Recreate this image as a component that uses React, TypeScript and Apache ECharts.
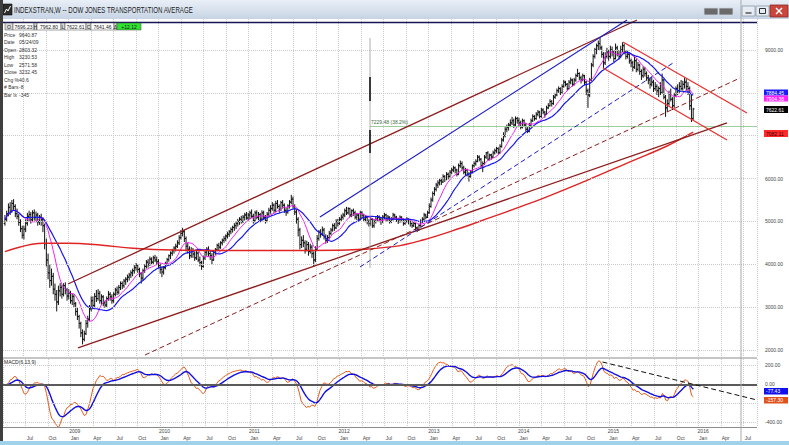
import React, { useEffect, useRef } from "react";
import * as echarts from "echarts";

const FONT = "'Liberation Sans', Arial, sans-serif";

// weekly bars: decimal year of the first bar and one week in years
const firstWeek = 2008.294;
const weekStep = 7 / 365.25;

// [open, high, low, close]
const bars2008 = [
  [4950, 5150, 4900, 5050], [5050, 5250, 5000, 5180], [5180, 5420, 5120, 5330], [5330, 5450, 5150, 5240],
  [5240, 5500, 5200, 5420], [5420, 5520, 5250, 5350], [5350, 5400, 5100, 5180], [5180, 5300, 5050, 5120],
  [5120, 5180, 4900, 4980], [4980, 5050, 4750, 4830], [4830, 4900, 4600, 4680], [4680, 4900, 4580, 4820],
  [4820, 5050, 4750, 4960], [4960, 5200, 4900, 5120], [5120, 5250, 5000, 5160], [5160, 5220, 4950, 5040],
  [5040, 5260, 5000, 5200], [5200, 5280, 5020, 5090], [5090, 5230, 4980, 5150], [5150, 5200, 4900, 4990],
  [4990, 5150, 4920, 5100], [5100, 5180, 4900, 5040], [5040, 5100, 4750, 4900], [4900, 4950, 4350, 4480],
  [4480, 4600, 3950, 4100], [4100, 4250, 3650, 3800], [3800, 4000, 3450, 3620], [3620, 3900, 3500, 3720],
  [3720, 3800, 3300, 3420], [3420, 3550, 3150, 3300], [3300, 3400, 2900, 3120], [3120, 3500, 3050, 3380],
  [3380, 3560, 3250, 3460], [3460, 3520, 3200, 3300], [3300, 3560, 3250, 3500], [3500, 3580, 3300, 3400],
  [3400, 3450, 3150, 3260],
];
const bars2009 = [
  [3260, 3420, 3180, 3330], [3330, 3380, 3080, 3150], [3150, 3320, 3050, 3250], [3250, 3300, 3000, 3080],
  [3080, 3120, 2800, 2900], [2900, 2980, 2700, 2780], [2780, 2820, 2500, 2620], [2620, 2660, 2300, 2400],
  [2400, 2480, 2130, 2250], [2250, 2450, 2200, 2380], [2380, 2700, 2350, 2620], [2620, 2800, 2520, 2720],
  [2720, 3050, 2680, 2960], [2960, 3250, 2900, 3150], [3150, 3250, 2950, 3040], [3040, 3330, 3000, 3250],
  [3250, 3400, 3120, 3200], [3200, 3420, 3150, 3320], [3320, 3380, 3080, 3150], [3150, 3300, 3050, 3240],
  [3240, 3280, 3020, 3100], [3100, 3150, 2980, 3050], [3050, 3250, 3000, 3200], [3200, 3380, 3150, 3300],
  [3300, 3350, 3150, 3240], [3240, 3300, 3080, 3150], [3150, 3350, 3100, 3300], [3300, 3450, 3250, 3400],
  [3400, 3480, 3280, 3350], [3350, 3520, 3300, 3460], [3460, 3600, 3400, 3550], [3550, 3600, 3420, 3500],
  [3500, 3660, 3450, 3610], [3610, 3700, 3520, 3650], [3650, 3760, 3580, 3700], [3700, 3800, 3620, 3750],
  [3750, 3860, 3680, 3800], [3800, 3900, 3720, 3850], [3850, 3980, 3780, 3920], [3920, 4030, 3850, 3980],
  [3980, 4000, 3800, 3880], [3880, 3920, 3700, 3780], [3780, 3820, 3550, 3680], [3680, 3900, 3620, 3850],
  [3850, 4000, 3800, 3950], [3950, 4100, 3900, 4050], [4050, 4120, 3920, 4000], [4000, 4180, 3960, 4120],
  [4120, 4160, 3980, 4050], [4050, 4200, 4000, 4150], [4150, 4220, 4050, 4100], [4100, 4180, 3980, 4060],
];
const bars2010 = [
  [4060, 4120, 3900, 3980], [3980, 4020, 3780, 3880], [3880, 3950, 3700, 3820], [3820, 3960, 3760, 3920],
  [3920, 4060, 3880, 4020], [4020, 4150, 3980, 4110], [4110, 4230, 4060, 4200], [4200, 4300, 4120, 4260],
  [4260, 4360, 4200, 4320], [4320, 4420, 4250, 4380], [4380, 4480, 4300, 4420], [4420, 4560, 4380, 4500],
  [4500, 4680, 4450, 4620], [4620, 4800, 4580, 4720], [4720, 4850, 4650, 4760], [4760, 4800, 4520, 4600],
  [4600, 4650, 4300, 4420], [4420, 4500, 4250, 4350], [4350, 4420, 4120, 4200], [4200, 4400, 4150, 4320],
  [4320, 4380, 4150, 4240], [4240, 4300, 4080, 4150], [4150, 4320, 4100, 4260], [4260, 4300, 4050, 4100],
  [4100, 4180, 3950, 4040], [4040, 4080, 3870, 3950], [3950, 4200, 3920, 4150], [4150, 4330, 4100, 4280],
  [4280, 4400, 4200, 4350], [4350, 4420, 4180, 4250], [4250, 4320, 4100, 4200], [4200, 4260, 4000, 4100],
  [4100, 4320, 4080, 4280], [4280, 4380, 4220, 4340], [4340, 4480, 4300, 4440], [4440, 4500, 4330, 4400],
  [4400, 4540, 4360, 4500], [4500, 4600, 4440, 4560], [4560, 4660, 4500, 4600], [4600, 4700, 4540, 4660],
  [4660, 4760, 4600, 4700], [4700, 4800, 4640, 4760], [4760, 4860, 4700, 4810], [4810, 4900, 4740, 4860],
  [4860, 4960, 4780, 4900], [4900, 5000, 4820, 4950], [4950, 5060, 4880, 5000], [5000, 5100, 4920, 5050],
  [5050, 5130, 4950, 5000], [5000, 5150, 4960, 5100], [5100, 5200, 5020, 5150], [5150, 5220, 5040, 5080],
  [5080, 5200, 5020, 5150],
];
const bars2011 = [
  [5150, 5250, 5050, 5200], [5200, 5280, 5080, 5120], [5120, 5180, 4950, 5020], [5020, 5250, 4980, 5200],
  [5200, 5260, 5050, 5100], [5100, 5220, 5030, 5160], [5160, 5200, 4980, 5050], [5050, 5260, 5000, 5200],
  [5200, 5250, 5030, 5100], [5100, 5150, 4950, 5020], [5020, 5220, 4980, 5170], [5170, 5320, 5120, 5260],
  [5260, 5380, 5180, 5300], [5300, 5450, 5250, 5380], [5380, 5420, 5200, 5260], [5260, 5480, 5220, 5420],
  [5420, 5500, 5300, 5350], [5350, 5400, 5200, 5280], [5280, 5480, 5240, 5440], [5440, 5500, 5300, 5380],
  [5380, 5420, 5200, 5260], [5260, 5320, 5130, 5220], [5220, 5400, 5180, 5360], [5360, 5500, 5300, 5450],
  [5450, 5620, 5400, 5520], [5520, 5580, 5300, 5350], [5350, 5400, 5150, 5220], [5220, 5280, 4950, 5050],
  [5050, 5100, 4650, 4800], [4800, 4850, 4350, 4460], [4460, 4650, 4380, 4560], [4560, 4680, 4400, 4500],
  [4500, 4560, 4250, 4350], [4350, 4550, 4300, 4460], [4460, 4520, 4200, 4300], [4300, 4480, 4250, 4400],
  [4400, 4450, 4150, 4250], [4250, 4300, 3940, 4100], [4100, 4420, 4050, 4350], [4350, 4680, 4320, 4600],
  [4600, 4800, 4550, 4750], [4750, 4820, 4620, 4700], [4700, 4880, 4660, 4800], [4800, 4850, 4580, 4650],
  [4650, 4700, 4480, 4560], [4560, 4680, 4500, 4620], [4620, 4780, 4580, 4720], [4720, 4850, 4680, 4800],
  [4800, 4950, 4760, 4900], [4900, 4960, 4780, 4850], [4850, 5050, 4820, 5000], [5000, 5060, 4880, 4950],
];
const bars2012 = [
  [4950, 5100, 4920, 5050], [5050, 5160, 5000, 5100], [5100, 5200, 5040, 5150], [5150, 5300, 5100, 5250],
  [5250, 5340, 5150, 5200], [5200, 5330, 5160, 5300], [5300, 5320, 5100, 5150], [5150, 5280, 5100, 5250],
  [5250, 5300, 5130, 5200], [5200, 5250, 5050, 5100], [5100, 5200, 5030, 5150], [5150, 5180, 5000, 5050],
  [5050, 5250, 5020, 5200], [5200, 5240, 5080, 5150], [5150, 5180, 5000, 5050], [5050, 5150, 4980, 5100],
  [5100, 5130, 4930, 5000], [5000, 5050, 4880, 4950], [4950, 5100, 4900, 5050], [5050, 5080, 4850, 4900],
  [4900, 5050, 4850, 5000], [5000, 5100, 4950, 5050], [5050, 5150, 5000, 5100], [5100, 5140, 4980, 5050],
  [5050, 5080, 4920, 5000], [5000, 5150, 4960, 5100], [5100, 5200, 5050, 5150], [5150, 5180, 5000, 5050],
  [5050, 5150, 5000, 5100], [5100, 5120, 4950, 5000], [5000, 5100, 4960, 5050], [5050, 5200, 5020, 5150],
  [5150, 5180, 5040, 5100], [5100, 5130, 4990, 5050], [5050, 5080, 4940, 5000], [5000, 5140, 4970, 5100],
  [5100, 5120, 4980, 5050], [5050, 5070, 4900, 4950], [4950, 5060, 4920, 5000], [5000, 5100, 4970, 5050],
  [5050, 5070, 4930, 5000], [5000, 5020, 4880, 4950], [4950, 4980, 4850, 4900], [4900, 5000, 4870, 4950],
  [4950, 4970, 4800, 4850], [4850, 4880, 4750, 4800], [4800, 4950, 4780, 4900], [4900, 5050, 4880, 5000],
  [5000, 5100, 4960, 5050], [5050, 5200, 5020, 5150], [5150, 5180, 5050, 5100], [5100, 5250, 5080, 5200],
];
const bars2013 = [
  [5200, 5420, 5180, 5350], [5350, 5560, 5320, 5500], [5500, 5700, 5460, 5650], [5650, 5800, 5600, 5750],
  [5750, 5900, 5700, 5850], [5850, 5960, 5780, 5900], [5900, 6000, 5840, 5950], [5950, 6020, 5850, 5920],
  [5920, 6100, 5900, 6050], [6050, 6080, 5920, 6000], [6000, 6150, 5960, 6100], [6100, 6140, 5980, 6050],
  [6050, 6200, 6020, 6150], [6150, 6250, 6100, 6200], [6200, 6300, 6150, 6250], [6250, 6280, 6120, 6200],
  [6200, 6230, 6050, 6100], [6100, 6350, 6080, 6300], [6300, 6420, 6250, 6350], [6350, 6400, 6200, 6250],
  [6250, 6300, 6100, 6150], [6150, 6250, 6080, 6200], [6200, 6230, 6050, 6100], [6100, 6150, 5930, 6050],
  [6050, 6200, 6020, 6150], [6150, 6330, 6120, 6300], [6300, 6400, 6260, 6350], [6350, 6450, 6300, 6400],
  [6400, 6550, 6380, 6500], [6500, 6540, 6400, 6450], [6450, 6480, 6250, 6300], [6300, 6400, 6150, 6350],
  [6350, 6550, 6320, 6500], [6500, 6620, 6460, 6600], [6600, 6640, 6420, 6450], [6450, 6580, 6420, 6550],
  [6550, 6580, 6440, 6500], [6500, 6650, 6480, 6600], [6600, 6700, 6560, 6650], [6650, 6740, 6600, 6700],
  [6700, 6730, 6560, 6600], [6600, 6800, 6580, 6750], [6750, 6950, 6720, 6900], [6900, 7080, 6860, 7000],
  [7000, 7200, 6960, 7150], [7150, 7260, 7080, 7200], [7200, 7300, 7120, 7250], [7250, 7380, 7200, 7300],
  [7300, 7440, 7250, 7350], [7350, 7400, 7180, 7250], [7250, 7450, 7220, 7400], [7400, 7440, 7280, 7350],
];
const bars2014 = [
  [7350, 7420, 7220, 7300], [7300, 7350, 7150, 7200], [7200, 7400, 7170, 7350], [7350, 7380, 7200, 7250],
  [7250, 7300, 7100, 7150], [7150, 7200, 7060, 7100], [7100, 7300, 7080, 7250], [7250, 7400, 7220, 7350],
  [7350, 7500, 7320, 7450], [7450, 7480, 7350, 7400], [7400, 7550, 7370, 7500], [7500, 7600, 7450, 7550],
  [7550, 7580, 7400, 7450], [7450, 7650, 7420, 7600], [7600, 7640, 7500, 7550], [7550, 7580, 7420, 7500],
  [7500, 7700, 7480, 7650], [7650, 7760, 7620, 7700], [7700, 7850, 7680, 7800], [7800, 7830, 7680, 7750],
  [7750, 7950, 7720, 7900], [7900, 8000, 7860, 7950], [7950, 8100, 7920, 8050], [8050, 8150, 8000, 8100],
  [8100, 8130, 7950, 8000], [8000, 8200, 7980, 8150], [8150, 8300, 8120, 8250], [8250, 8280, 8150, 8200],
  [8200, 8230, 8050, 8100], [8100, 8300, 8080, 8250], [8250, 8360, 8200, 8300], [8300, 8330, 8150, 8200],
  [8200, 8350, 8170, 8300], [8300, 8450, 8260, 8400], [8400, 8560, 8370, 8450], [8450, 8480, 8300, 8350],
  [8350, 8400, 8220, 8300], [8300, 8450, 8270, 8400], [8400, 8420, 8180, 8250], [8250, 8280, 7950, 8050],
  [8050, 8100, 7650, 7950], [7950, 8350, 7900, 8300], [8300, 8700, 8280, 8650], [8650, 8900, 8600, 8850],
  [8850, 9050, 8800, 9000], [9000, 9150, 8900, 9100], [9100, 9220, 9000, 9150], [9150, 9280, 9000, 9050],
  [9050, 9100, 8820, 8900], [8900, 8950, 8580, 8700], [8700, 8950, 8650, 8850], [8850, 9050, 8800, 8950],
];
const bars2015 = [
  [8950, 9000, 8750, 8850], [8850, 9100, 8800, 9000], [9000, 9080, 8850, 8950], [8950, 9000, 8720, 8800],
  [8800, 9150, 8780, 9050], [9050, 9100, 8850, 8900], [8900, 9000, 8780, 8850], [8850, 9100, 8820, 9000],
  [9000, 9180, 8950, 9100], [9100, 9150, 8900, 8950], [8950, 9000, 8780, 8850], [8850, 9000, 8800, 8900],
  [8900, 8950, 8680, 8750], [8750, 8800, 8600, 8700], [8700, 8750, 8500, 8600], [8600, 8850, 8560, 8750],
  [8750, 8800, 8480, 8550], [8550, 8720, 8500, 8650], [8650, 8680, 8420, 8500], [8500, 8550, 8300, 8400],
  [8400, 8620, 8350, 8550], [8550, 8600, 8380, 8450], [8450, 8500, 8280, 8350], [8350, 8420, 8200, 8300],
  [8300, 8350, 8100, 8200], [8200, 8380, 8150, 8250], [8250, 8300, 8020, 8100], [8100, 8250, 8050, 8150],
  [8150, 8200, 7950, 8050], [8050, 8150, 7900, 8100], [8100, 8250, 7950, 8000], [8000, 8450, 7980, 8300],
  [8300, 8320, 7850, 7900], [7900, 7950, 7440, 7650], [7650, 7850, 7550, 7750], [7750, 8050, 7700, 7980],
  [7980, 8100, 7800, 7850], [7850, 7900, 7600, 7700], [7700, 8000, 7650, 7950], [7950, 8150, 7900, 8100],
  [8100, 8200, 7950, 8050], [8050, 8250, 8000, 8150], [8150, 8300, 8050, 8100], [8100, 8280, 8050, 8200],
  [8200, 8350, 8100, 8250], [8250, 8320, 8050, 8150], [8150, 8250, 7950, 8100], [8100, 8150, 7600, 7700],
  [7700, 7950, 7320, 7400], [7400, 7650, 7370, 7622],
];

// long red moving average
const redMaDates = [2008.294, 2008.717, 2008.983, 2009.35, 2009.717, 2010.161, 2011.128, 2012.094, 2012.606, 2012.939, 2013.35, 2013.7, 2014.017, 2014.272, 2014.761, 2015.272, 2015.65, 2015.941];
const redMaValues = [4294, 4490, 4490, 4450, 4373, 4333, 4320, 4333, 4411, 4567, 4840, 5100, 5340, 5540, 5960, 6420, 6760, 7082];

// drawn trend lines [decimal year, price]
const channelTop = [[2008.994, 3540], [2015.317, 9700]];
const channelBottom = [[2009.106, 2047], [2016.317, 7297]];
const supportDashed = [[2009.85, 1883], [2016.461, 8347]];
const blueTrend = [[2011.794, 5103], [2015.206, 9700]];
const blueDashed = [[2012.239, 3937], [2015.717, 8697]];
const fallTop = [[2015.161, 9187], [2016.539, 7530]];
const fallBottom = [[2014.939, 8580], [2016.317, 6900]];
const drawnHigh = 9640.87;
const fibLevel = 7229.48;
const fibStart = 2012.35;
const fibText = "7229.48 (38.2%)";
const fibMarker = [[2012.35, 9280], [2012.35, 3913]];
const fibMarkBold1 = [[2012.35, 8370], [2012.35, 7810]];
const fibMarkBold2 = [[2012.35, 7133], [2012.35, 6597]];
const macdTrend = [[2014.928, 237], [2016.65, -163]];

const priceTicks = [2000, 3000, 4000, 5000, 6000, 7000, 8000, 9000];
const priceTicksUnderBoxes = [7000, 8000];
const macdTicks = [200, 0, -200, -400];
const macdTicksUnderBoxes = [-200];
const quarterNames = ["Jan", "Apr", "Jul", "Oct"];

const infoRows = [
  ["Price", "9640.87"], ["Date", "05/24/09"], ["Open", "2803.32"], ["High", "3230.53"],
  ["Low", "2571.58"], ["Close", "3232.45"], ["Chg %", "40.6"], ["# Bars", "-8"], ["Bar Ix", "-345"],
];
const quoteCells = [
  ["O", "7696.23"], ["H", "7962.80"], ["L", "7622.61"], ["C", "7641.46"], ["Δ", "+12.12"],
];
const lastValues = { ma20: "7884.45", ma10: "7904.38", close: "7622.61", maLong: "7082.11", signal: "-77.43", macd: "-157.30" };

const xMin = 2008.25;
const xMax = 2016.65;
const priceMin = 1836.7;
const priceMax = 9723.3;
const macdMin = -447.4;
const macdMax = 268.4;

function sma(values: number[], n: number) {
  return values.map((_, i) => {
    const s = Math.max(0, i - n + 1);
    let sum = 0;
    for (let k = s; k <= i; k++) sum += values[k];
    return sum / (i - s + 1);
  });
}
function ema(values: number[], n: number) {
  const k = 2 / (n + 1);
  const out: number[] = [];
  values.forEach((v, i) => out.push(i === 0 ? v : v * k + out[i - 1] * (1 - k)));
  return out;
}

function buildOption() {
  const bars = [...bars2008, ...bars2009, ...bars2010, ...bars2011, ...bars2012, ...bars2013, ...bars2014, ...bars2015];
  const dates = bars.map((_, i) => firstWeek + i * weekStep);
  const closes = bars.map((b) => b[3]);
  const ma10 = sma(closes, 10);
  const ma20 = sma(closes, 20);
  const e6 = ema(closes, 6);
  const e13 = ema(closes, 13);
  const macd = e6.map((v, i) => v - e13[i]);
  const signal = ema(macd, 9);

  const barData = bars.map((b, i) => [dates[i], b[0], b[1], b[2], b[3]]);

  const renderItem = (params: any, api: any) => {
    const t = api.value(0);
    const ph = api.coord([t, api.value(2)]);
    const pl = api.coord([t, api.value(3)]);
    const po = api.coord([t, api.value(1)]);
    const pc = api.coord([t, api.value(4)]);
    const x = ph[0];
    const style = { stroke: "#111111", lineWidth: 1 };
    return {
      type: "group",
      children: [
        { type: "line", shape: { x1: x, y1: ph[1], x2: x, y2: pl[1] }, style },
        { type: "line", shape: { x1: x - 1.3, y1: po[1], x2: x, y2: po[1] }, style },
        { type: "line", shape: { x1: x, y1: pc[1], x2: x + 1.3, y2: pc[1] }, style },
      ],
    };
  };

  const seg = (name: string, data: number[][], color: string, width: number, dashed: boolean, xi = 0) => ({
    type: "line",
    name,
    xAxisIndex: xi,
    yAxisIndex: xi,
    data,
    symbol: "none",
    showSymbol: false,
    silent: true,
    z: 5,
    lineStyle: { color, width, type: dashed ? [5, 3] : "solid" },
  });

  const labelFmt = (v: number) => {
    if (v < 2008.4) return "";
    const q4 = Math.round(v * 4);
    if (Math.abs(v * 4 - q4) > 0.01) return "";
    const year = Math.floor(q4 / 4);
    const qi = q4 - year * 4;
    return qi === 0 ? `{y|${year}}\n{m|${quarterNames[qi]}}` : `{y| }\n{m|${quarterNames[qi]}}`;
  };

  const splitLine = { show: true, lineStyle: { color: "#cdcdcd", type: "dotted", width: 1 } };
  const tickLabel = {
    show: true, position: "end", distance: 8, fontSize: 5, fontFamily: FONT, color: "#444",
    formatter: (p: any) => Number(p.value).toFixed(2),
  };

  const series: any[] = [
    {
      type: "custom",
      name: "bars",
      xAxisIndex: 0,
      yAxisIndex: 0,
      data: barData,
      renderItem,
      encode: { x: 0, y: [1, 2, 3, 4] },
      clip: true,
      silent: true,
      z: 3,
    },
    {
      type: "line", name: "MA10", xAxisIndex: 0, yAxisIndex: 0,
      data: dates.map((t, i) => [t, ma10[i]]), symbol: "none", showSymbol: false, silent: true, z: 4,
      lineStyle: { color: "#f022f0", width: 1 },
    },
    {
      type: "line", name: "MA20", xAxisIndex: 0, yAxisIndex: 0,
      data: dates.map((t, i) => [t, ma20[i]]), symbol: "none", showSymbol: false, silent: true, z: 4,
      lineStyle: { color: "#1616ee", width: 1.2 },
    },
    {
      type: "line", name: "MA long", xAxisIndex: 0, yAxisIndex: 0,
      data: redMaDates.map((t, i) => [t, redMaValues[i]]), symbol: "none", showSymbol: false, silent: true, z: 4,
      smooth: 0.4,
      lineStyle: { color: "#e02424", width: 1.4 },
      markLine: {
        silent: true, symbol: ["none", "none"], animation: false,
        lineStyle: { color: "#c9c9c9", type: "dotted", width: 1 },
        label: tickLabel,
        data: priceTicks.map((v) =>
          priceTicksUnderBoxes.includes(v) ? { yAxis: v, label: { show: false } } : { yAxis: v }
        ),
      },
    },
    seg("channel top", channelTop, "#8e1c1c", 1.3, false),
    seg("channel bottom", channelBottom, "#8e1c1c", 1.3, false),
    seg("support dashed", supportDashed, "#8e1c1c", 1, true),
    seg("blue trend", blueTrend, "#1c1cc8", 1.2, false),
    seg("blue dashed", blueDashed, "#1c1cc8", 1, true),
    seg("fall top", fallTop, "#e83030", 1.3, false),
    seg("fall bottom", fallBottom, "#e83030", 1.3, false),
    seg("fib marker", fibMarker, "#9a9a9a", 0.8, false),
    seg("fib bold 1", fibMarkBold1, "#111111", 1.6, false),
    seg("fib bold 2", fibMarkBold2, "#111111", 1.6, false),
    {
      type: "line", name: "drawn high", xAxisIndex: 0, yAxisIndex: 0,
      data: [[xMin, drawnHigh], [xMax, drawnHigh]], symbol: "none", showSymbol: false, silent: true, z: 5,
      lineStyle: { color: "#16165a", width: 1.4 },
      markLine: {
        silent: true, symbol: ["none", "none"], animation: false,
        lineStyle: { color: "#9ccf9c", type: "solid", width: 1 },
        label: {
          show: true, position: "insideStartTop", distance: 1, fontSize: 5, fontFamily: FONT, color: "#3d6b3d",
          formatter: fibText,
        },
        data: [[{ coord: [fibStart, fibLevel] }, { coord: [xMax, fibLevel] }]],
      },
    },
    {
      type: "line", name: "MACD", xAxisIndex: 1, yAxisIndex: 1,
      data: dates.map((t, i) => [t, macd[i]]), symbol: "none", showSymbol: false, silent: true, z: 4,
      lineStyle: { color: "#e25a1c", width: 1 },
      markLine: {
        silent: true, symbol: ["none", "none"], animation: false,
        lineStyle: { color: "#c9c9c9", type: "dotted", width: 1 },
        label: tickLabel,
        data: macdTicks.map((v) => {
          const item: any = { yAxis: v };
          if (v === 0) item.lineStyle = { color: "#5a5a5a", width: 2, type: "solid" };
          if (macdTicksUnderBoxes.includes(v)) item.label = { show: false };
          return item;
        }),
      },
    },
    {
      type: "line", name: "Signal", xAxisIndex: 1, yAxisIndex: 1,
      data: dates.map((t, i) => [t, signal[i]]), symbol: "none", showSymbol: false, silent: true, z: 4,
      lineStyle: { color: "#1010e0", width: 1.4 },
    },
    seg("macd trend", macdTrend, "#111111", 1, true, 1),
  ];

  const txt = (x: number, y: number, text: string, size: number, fill: string, align = "left", extra: any = {}) => ({
    type: "text",
    z: 100,
    x,
    y,
    ...extra,
    style: {
      x: 0, y: 0, text, fill, fontSize: size, fontFamily: FONT,
      align, verticalAlign: "middle", textAlign: align, textVerticalAlign: "middle",
    },
  });
  const rect = (x: number, y: number, w: number, h: number, fill: any, stroke?: string, lw = 0.6) => ({
    type: "rect", z: 100, shape: { x, y, width: w, height: h },
    style: { fill, stroke: stroke || "none", lineWidth: lw },
  });
  const line = (x1: number, y1: number, x2: number, y2: number, stroke: string, lw = 1) => ({
    type: "line", z: 100, shape: { x1, y1, x2, y2 }, style: { stroke, lineWidth: lw },
  });

  const elements: any[] = [];
  // title bar
  elements.push(
    rect(0, 0, 789, 19, new echarts.graphic.LinearGradient(0, 0, 0, 1, [
      { offset: 0, color: "#e9eff7" }, { offset: 1, color: "#c7d4e4" },
    ]))
  );
  elements.push(rect(3, 4, 9, 11, "#2c2c2c", "#111", 0.6));
  elements.push({
    type: "polyline", z: 101, shape: { points: [[4.5, 13], [6.5, 9], [8, 11], [10.5, 6]] },
    style: { stroke: "#ffffff", lineWidth: 1, fill: "none" },
  });
  elements.push(txt(14, 10.5, "INDEXSTRAN,W -- DOW JONES TRANSPORTATION AVERAGE", 9, "#1b1b1b", "left", { scaleX: 0.68 }));
  // window buttons
  elements.push(rect(704, 8, 14, 7, "#6a6a6a", "#cfd6df", 0.8));
  elements.push(rect(719, 8, 14, 7, "#6a6a6a", "#cfd6df", 0.8));
  elements.push(rect(742, 6, 13, 10, "#e6ecf3", "#8c99a8", 0.8));
  elements.push(line(745.5, 13, 751.5, 13, "#333", 1.2));
  elements.push(rect(756, 6, 13, 10, "#e6ecf3", "#8c99a8", 0.8));
  elements.push(rect(759.5, 8.5, 6, 5, "none", "#333", 1));
  elements.push(rect(770, 5, 18, 12, "#c8463b", "#8a2a22", 0.8));
  elements.push(line(776, 8, 782, 14, "#ffffff", 1.4));
  elements.push(line(782, 8, 776, 14, "#ffffff", 1.4));
  // left border and bottom strip
  elements.push(rect(0, 0, 3, 445, "#3f3f3f"));
  elements.push(rect(0, 441, 789, 4, "#9fd2ea"));
  // panel separators and cursor line
  elements.push(line(3, 358, 757, 358, "#8c8c8c", 1));
  elements.push(line(3, 427.5, 757, 427.5, "#8c8c8c", 1));
  elements.push(line(741, 0, 741, 441, "#a9a9a9", 1));
  // quote strip
  const cellX = [5, 13, 34, 37, 61, 65, 86, 91, 114, 117, 141];
  quoteCells.forEach((c, k) => {
    const lx = cellX[k * 2], vx = cellX[k * 2 + 1], ex = cellX[k * 2 + 2];
    elements.push(rect(lx, 23, vx - lx, 7, "#d9d9d9", "#444", 0.5));
    elements.push(txt((lx + vx) / 2, 26.5, c[0], 5, "#222", "center"));
    const green = k === quoteCells.length - 1;
    elements.push(rect(vx, 23, ex - vx, 7, green ? "#2fe22f" : "#ffffff", "#444", 0.5));
    elements.push(txt((vx + ex) / 2, 26.5, c[1], 5, "#1b1b1b", "center"));
  });
  // info panel
  infoRows.forEach((r, k) => {
    const y = 35 + k * 7.45;
    elements.push(txt(4, y, r[0], 5, "#333"));
    elements.push(txt(19, y, r[1], 5, "#333"));
  });
  elements.push(txt(4, 362, "MACD(6,13,9)", 5, "#222"));
  // last-value boxes
  const box = (y: number, h: number, fill: string, text: string, color: string) => {
    elements.push(rect(764, y, 24, h, fill));
    elements.push(txt(766, y + h / 2, text, 5, color));
  };
  box(89.5, 6, "#1a1aff", lastValues.ma20, "#ffffff");
  box(95.5, 6, "#ff22ff", lastValues.ma10, "#ffffff");
  box(106, 7, "#000000", lastValues.close, "#ffffff");
  box(130, 7, "#ff2a2a", lastValues.maLong, "#3a0000");
  box(388, 6.5, "#1010ee", lastValues.signal, "#ffffff");
  box(397, 6.5, "#e0521c", lastValues.macd, "#ffffff");

  return {
    animation: false,
    backgroundColor: "#ffffff",
    grid: [
      { left: 1, right: 32, top: 19, height: 338 },
      { left: 1, right: 32, top: 359, height: 68 },
    ],
    xAxis: [
      {
        type: "value", gridIndex: 0, min: xMin, max: xMax, interval: 0.25,
        axisLine: { show: false }, axisTick: { show: false }, axisLabel: { show: false }, splitLine,
      },
      {
        type: "value", gridIndex: 1, min: xMin, max: xMax, interval: 0.25,
        axisLine: { show: false }, axisTick: { show: false }, splitLine,
        axisLabel: {
          show: true, formatter: labelFmt, margin: 0, padding: [0, 0, 0, 9], color: "#444",
          fontFamily: FONT, fontSize: 5,
          rich: {
            y: { fontSize: 5, lineHeight: 7, color: "#444", fontFamily: FONT },
            m: { fontSize: 5, lineHeight: 7, color: "#444", fontFamily: FONT },
          },
        },
      },
    ],
    yAxis: [
      { type: "value", gridIndex: 0, min: priceMin, max: priceMax, show: false },
      { type: "value", gridIndex: 1, min: macdMin, max: macdMax, show: false },
    ],
    series,
    graphic: { elements },
  };
}

export default function App() {
  const ref = useRef<HTMLDivElement>(null);
  useEffect(() => {
    if (!ref.current) return;
    const chart = echarts.init(ref.current, null, { renderer: "svg" });
    chart.setOption(buildOption() as any);
    return () => chart.dispose();
  }, []);
  return (
    <div
      ref={ref}
      style={{ position: "fixed", left: 0, top: 0, width: 789, height: 445, background: "#ffffff" }}
    />
  );
}
